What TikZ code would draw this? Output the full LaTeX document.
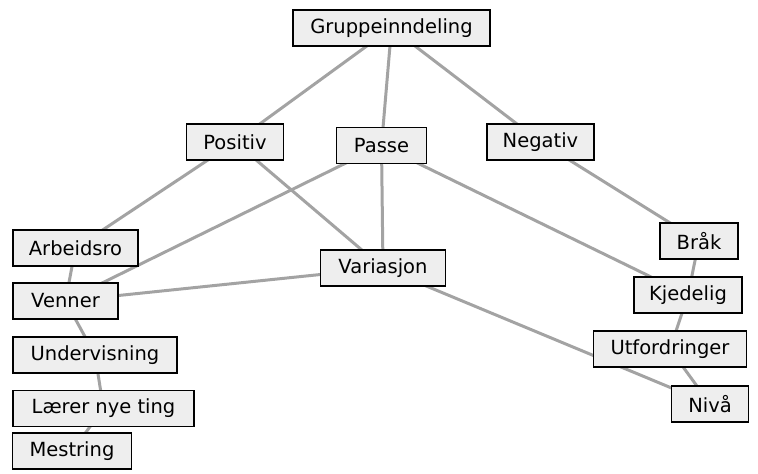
\documentclass[tikz,border=0pt]{standalone}
\usepackage{fontspec}
\setmainfont{DejaVu Sans}
\usetikzlibrary{backgrounds}
\definecolor{boxfill}{HTML}{EEEEEE}
\definecolor{linkgray}{HTML}{A3A3A3}
\tikzset{
  term/.style={draw=black, line width=1.6pt, fill=boxfill, rectangle,
    minimum height=36pt, inner sep=0pt, font=\fontsize{19.5}{23}\selectfont},
  link/.style={draw=linkgray, line width=3pt}
}
\begin{document}
\begin{tikzpicture}[x=1pt, y=-1pt]
\useasboundingbox (0,0) rectangle (758,474);
\node[term, minimum width=197pt] (g)   at (391.5,28)  {Gruppeinndeling};
\node[term, minimum width=97pt]  (pos) at (235,142)   {Positiv};
\node[term, minimum width=90pt]  (pas) at (381.5,145.5) {Passe};
\node[term, minimum width=107pt] (neg) at (540.5,142) {Negativ};
\node[term, minimum width=125pt] (arb) at (75.5,248)  {Arbeidsro};
\node[term, minimum width=105pt] (ven) at (65.5,301)  {Venner};
\node[term, minimum width=125pt] (var) at (383,268)   {Variasjon};
\node[term, minimum width=78pt]  (brk) at (699,241)   {Bråk};
\node[term, minimum width=108pt] (kje) at (688,295)   {Kjedelig};
\node[term, minimum width=153pt] (utf) at (670,349)   {Utfordringer};
\node[term, minimum width=77pt]  (niv) at (710,404)   {Nivå};
\node[term, minimum width=164pt] (und) at (95,355)    {Undervisning};
\node[term, minimum width=181pt] (lae) at (103.5,408.5) {Lærer nye ting};
\node[term, minimum width=119pt] (mes) at (72,451)    {Mestring};
\begin{scope}[on background layer]
  \draw[link] (g.center) -- (pos.center);
  \draw[link] (g.center) -- (pas.center);
  \draw[link] (g.center) -- (neg.center);
  \draw[link] (pos.center) -- (arb.center);
  \draw[link] (pos.center) -- (var.center);
  \draw[link] (pas.center) -- (ven.center);
  \draw[link] (pas.center) -- (var.center);
  \draw[link] (pas.center) -- (kje.center);
  \draw[link] (neg.center) -- (brk.center);
  \draw[link] (arb.center) -- (ven.center);
  \draw[link] (ven.center) -- (var.center);
  \draw[link] (ven.center) -- (und.center);
  \draw[link] (und.center) -- (lae.center);
  \draw[link] (lae.center) -- (mes.center);
  \draw[link] (var.center) -- (niv.center);
  \draw[link] (brk.center) -- (kje.center);
  \draw[link] (kje.center) -- (utf.center);
  \draw[link] (utf.center) -- (niv.center);
\end{scope}
\end{tikzpicture}
\end{document}
